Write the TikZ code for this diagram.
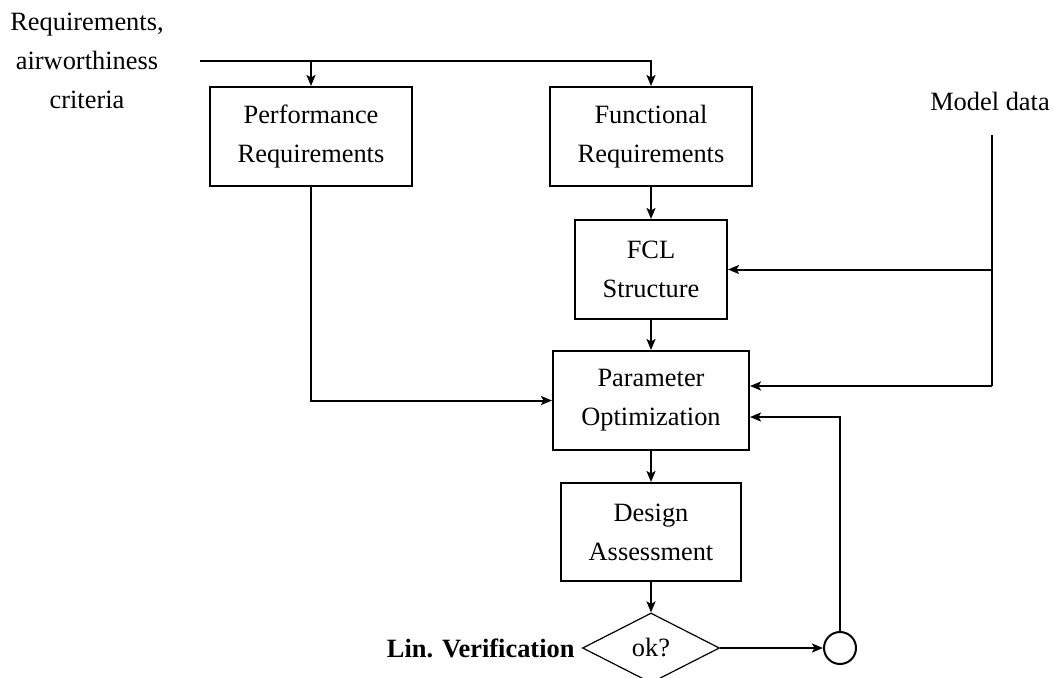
\documentclass[tikz,border=0pt]{standalone}
\usepackage{fontspec}
\setmainfont{Liberation Serif}
\usetikzlibrary{arrows.meta,shapes.geometric}
\begin{document}
\begin{tikzpicture}[x=1pt,y=-1pt,
  every node/.style={font=\fontsize{26.4}{39}\selectfont, align=center},
  blk/.style={draw, line width=2pt, rectangle, inner sep=0pt, minimum height=99pt},
  flow/.style={line width=2pt, -{Stealth[length=11pt,width=9pt,inset=2.5pt]}},
  wire/.style={line width=2pt}]
  \useasboundingbox (0,0) rectangle (1054,677);

  % processing blocks
  \node[blk, minimum width=202pt] (perf) at (311,136.5) {Performance\\Requirements};
  \node[blk, minimum width=202pt] (func) at (651,136.5) {Functional\\Requirements};
  \node[blk, minimum width=152pt] (fcl) at (651,269.5) {FCL\\Structure};
  \node[blk, minimum width=196pt] (param) at (651,400.5) {Parameter\\Optimization};
  \node[blk, minimum width=180pt, minimum height=98pt] (design) at (651,532) {Design\\Assessment};
  \node[draw, line width=1.2pt, diamond, inner sep=0pt, minimum width=137pt,
        minimum height=70pt, shape aspect=1.96] (ok) at (651,648) {\raisebox{2pt}{ok?}};
  \node[draw, line width=2pt, circle, inner sep=0pt, minimum size=32pt] (join) at (840,648) {};

  % labels
  \node (req) at (87,61) {Requirements,\\airworthiness\\criteria};
  \node (model) at (990,101) {Model data};
  \node[anchor=east, font=\fontsize{26.4}{39}\selectfont\bfseries] (lin) at (578,648) {Lin. Verification};

  % junction points
  \coordinate (rin) at (200,61);
  \coordinate (rtop) at (651,61);
  \coordinate (rbr) at (311,61);
  \coordinate (mtop) at (992,135);
  \coordinate (mfcl) at (992,269.5);
  \coordinate (mpar) at (992,386);
  \coordinate (pcorner) at (311,400.5);
  \coordinate (fbk) at (840,417);

  % requirements feed
  \draw[flow] (rin) -- (rtop) -- (func.north);
  \draw[flow] (rbr) -- (perf.north);

  % main chain
  \draw[flow] (func) -- (fcl);
  \draw[flow] (fcl) -- (param);
  \draw[flow] (param) -- (design);
  \draw[flow] (design) -- (ok);
  \draw[flow] (perf.south) -- (pcorner) -- (param.west);

  % model data
  \draw[wire] (mtop) -- (mpar);
  \draw[flow] (mfcl) -- (fcl.east |- mfcl);
  \draw[flow] (mpar) -- (param.east |- mpar);

  % verification loop
  \draw[flow] (ok.east) -- (join.west);
  \draw[flow] (join.north) -- (fbk) -- (param.east |- fbk);
\end{tikzpicture}
\end{document}
